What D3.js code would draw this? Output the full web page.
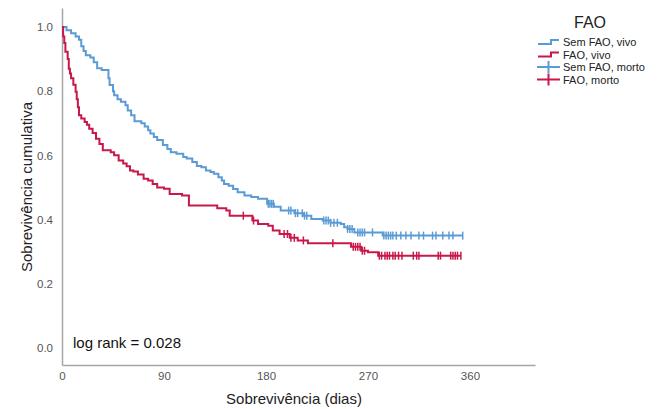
<!DOCTYPE html>
<html><head><meta charset="utf-8">
<script src="https://cdn.jsdelivr.net/npm/d3@7"></script>
<style>
html,body{margin:0;padding:0;background:#fff;}
svg{display:block;font-family:Arial,"Liberation Sans",sans-serif;}
</style></head>
<body><svg id="chart" width="667" height="409"></svg>
<script>
// ---- data ----
const xTicks = [0, 90, 180, 270, 360];
const yTicks = [0.0, 0.2, 0.4, 0.6, 0.8, 1.0];
const legendLabels = ["Sem FAO, vivo", "FAO, vivo", "Sem FAO, morto", "FAO, morto"];

const semFaoTimes = [0,4,8,12,15,17,19,21,25,28,31,35,41,42,45,46,49,52,56,58,61,64,70,73,76,78,81,84,89,93,96,101,107,110,115,119,123,127,131,134,138,141,143,147,151,155,161,167,173,181,187,193,205,213,220,230,237,246,249,252,258,283];
const semFaoSurv  = [1.0,0.99,0.98,0.97,0.96,0.94,0.925,0.912,0.905,0.89,0.871,0.866,0.84,0.819,0.80,0.787,0.775,0.767,0.756,0.74,0.725,0.706,0.70,0.69,0.678,0.668,0.657,0.648,0.632,0.62,0.61,0.605,0.595,0.59,0.579,0.567,0.563,0.553,0.548,0.543,0.532,0.522,0.511,0.505,0.495,0.485,0.475,0.47,0.465,0.449,0.44,0.428,0.42,0.412,0.402,0.397,0.39,0.386,0.376,0.371,0.36,0.35];
const semFaoCensor = [182,183.5,185,186.5,200,202,206,208,212,214,216,231,233,235,237,240,243,252,254,256,261,263,265,267,274,284,286,288,290,292,295,299,303.5,308,315,319,327,330,336,341.5,345];
const semFaoEnd = 353.6;

const faoTimes = [0,1,2,3,5,6,7,8,10,12,13,14,15,17,20,22,24,27,30,33,36,43,46,50,54,57,60,63,67,72,76,80,84,90,95,106,112,137,145,148,168,173,182,186,192,201,208,217,255,264,270,279];
const faoSurv  = [1.0,0.97,0.95,0.923,0.90,0.87,0.855,0.84,0.82,0.798,0.775,0.75,0.725,0.715,0.704,0.695,0.683,0.67,0.652,0.635,0.616,0.61,0.60,0.584,0.575,0.566,0.553,0.55,0.54,0.527,0.522,0.511,0.50,0.496,0.48,0.475,0.444,0.435,0.428,0.412,0.397,0.386,0.381,0.366,0.355,0.343,0.335,0.326,0.315,0.303,0.298,0.2875];
const faoCensor = [160,169,196,199,202,205,213,239,257,259,261,263,265,267,280,282,285,287,289,292,294,297,300,310,313,315,332,334,343,345,347,349];
const faoEnd = 352;

const colBlue = "#5b9bd5";
const colRed = "#c8184a";

// ---- chart ----
const svg = d3.select("#chart");
const x = d3.scaleLinear().domain([0, 417.4]).range([62, 535]);
const y = d3.scaleLinear().domain([-0.053, 1.059]).range([365, 8]);

// axes
const xAxis = d3.axisBottom(x).tickValues(xTicks).tickSize(0).tickPadding(7).tickFormat(d3.format("d"));
const yAxis = d3.axisLeft(y).tickValues(yTicks).tickSize(0).tickPadding(9).tickFormat(d3.format(".1f"));
const gx = svg.append("g").attr("transform", "translate(0,365)").call(xAxis);
const gy = svg.append("g").attr("transform", "translate(62,0)").call(yAxis);
[gx, gy].forEach(g => {
  g.select(".domain").attr("stroke", "#a6a6a6").attr("stroke-width", 1.5);
  g.selectAll("text").attr("fill", "#555").style("font-size", "11.5px");
});

function stepPoints(times, surv, end) {
  const pts = times.map((t, i) => [t, surv[i]]);
  pts.push([end, surv[surv.length - 1]]);
  return pts;
}
function survAt(times, surv, t) {
  const i = d3.bisectRight(times, t) - 1;
  return surv[Math.max(0, i)];
}
const line = d3.line().x(d => x(d[0])).y(d => y(d[1])).curve(d3.curveStepAfter);

const series = [
  {times: semFaoTimes, surv: semFaoSurv, cens: semFaoCensor.concat([semFaoEnd]), end: semFaoEnd, col: colBlue},
  {times: faoTimes, surv: faoSurv, cens: faoCensor.concat([faoEnd]), end: faoEnd, col: colRed}
];
series.forEach(s => {
  svg.append("path").datum(stepPoints(s.times, s.surv, s.end))
    .attr("d", line).attr("fill", "none").attr("stroke", s.col).attr("stroke-width", 2);
  svg.append("g").selectAll("line").data(s.cens).join("line")
    .attr("x1", d => x(d)).attr("x2", d => x(d))
    .attr("y1", d => y(survAt(s.times, s.surv, d)) - 4)
    .attr("y2", d => y(survAt(s.times, s.surv, d)) + 4)
    .attr("stroke", s.col).attr("stroke-width", 1.5);
});

// axis titles
svg.append("text").attr("x", 294).attr("y", 404).attr("text-anchor", "middle")
  .style("font-size", "15px").attr("fill", "#222").text("Sobrevivência (dias)");
svg.append("text").attr("transform", "translate(32,187) rotate(-90)").attr("text-anchor", "middle")
  .style("font-size", "15px").attr("fill", "#222").text("Sobrevivência cumulativa");

// annotation
svg.append("text").attr("x", 73).attr("y", 348).style("font-size", "15px").attr("fill", "#111")
  .text("log rank = 0.028");

// legend
const lg = svg.append("g");
lg.append("text").attr("x", 574).attr("y", 28).style("font-size", "16px").attr("fill", "#222").text("FAO");
const rows = [42, 54.5, 67, 79.5];
const legCols = [colBlue, colRed, colBlue, colRed];
legendLabels.forEach((lab, i) => {
  const yy = rows[i];
  const c = legCols[i];
  if (i < 2) {
    lg.append("path").attr("d", `M538,${yy + 2}H551V${yy - 2}H559`)
      .attr("fill", "none").attr("stroke", c).attr("stroke-width", 2);
  } else {
    lg.append("line").attr("x1", 537).attr("x2", 560).attr("y1", yy).attr("y2", yy)
      .attr("stroke", c).attr("stroke-width", 2);
    lg.append("line").attr("x1", 548.5).attr("x2", 548.5).attr("y1", yy - 6).attr("y2", yy + 6)
      .attr("stroke", c).attr("stroke-width", 2);
  }
  lg.append("text").attr("x", 563).attr("y", yy + 4).style("font-size", "11px").attr("fill", "#222").text(lab);
});
</script></body></html>
